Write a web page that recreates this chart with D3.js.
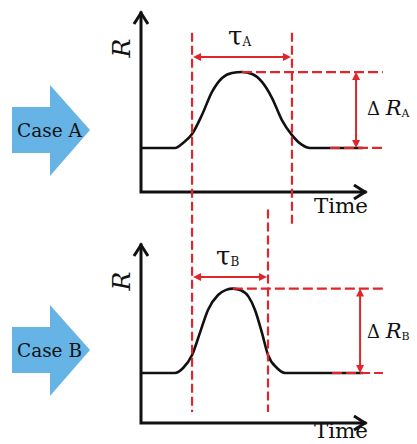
<!DOCTYPE html>
<html><head><meta charset="utf-8">
<script src="https://cdn.jsdelivr.net/npm/d3@7"></script>
<style>
html,body{margin:0;padding:0;background:#fff;}
svg{display:block;}
</style>
</head><body>
<svg id="chart" width="417" height="444"></svg>
<script>
// ---- data (time in arbitrary units 0..10, R normalised 0..1) ----
const caseNames = ["Case A", "Case B"];
const subs = ["A", "B"];
const timeA = [0, 1.52, 1.88, 2.28, 2.72, 3.17, 3.62, 4.06, 4.51, 4.96, 5.40, 5.85, 6.29, 6.74, 7.19, 7.54, 9.91];
const rA    = [0.246, 0.246, 0.274, 0.324, 0.430, 0.559, 0.637, 0.665, 0.670, 0.659, 0.615, 0.525, 0.402, 0.318, 0.263, 0.246, 0.246];
const timeB = [0, 1.52, 1.88, 2.28, 2.63, 2.99, 3.44, 3.80, 4.10, 4.46, 4.80, 5.09, 5.40, 5.67, 6.07, 6.43, 9.91];
const rB    = [0.281, 0.281, 0.309, 0.382, 0.506, 0.635, 0.719, 0.748, 0.755, 0.746, 0.710, 0.635, 0.506, 0.382, 0.309, 0.281, 0.281];
const tauA = [2.28, 6.74];
const tauB = [2.28, 5.67];
const peakA = {t: 4.51, r: 0.670}, peakB = {t: 4.10, r: 0.755};
const baseA = 0.246, baseB = 0.281;
const baseDashStart = [8.44, 8.53];
const deltaAt = [9.6, 9.78];
const xLabel = "Time", yLabel = "R";

// ---- layout ----
const svg = d3.select("#chart");
const RED = "#e0262a", BLACK = "#111", BLUE = "#66b4e6";
const SERIF = '"DejaVu Serif","Liberation Serif",serif';
const x = d3.scaleLinear().domain([0, 10]).range([141, 365]);
const panels = [
  {time: timeA, r: rA, tau: tauA, peak: peakA, base: baseA,
   y: d3.scaleLinear().domain([0, 1]).range([192, 13]), tauY: 57, tauLabelY: 45, dLabelY: 115, arrowY: 130, timeY: 213, rLabelY: 48},
  {time: timeB, r: rB, tau: tauB, peak: peakB, base: baseB,
   y: d3.scaleLinear().domain([0, 1]).range([423, 245]), tauY: 277, tauLabelY: 265, dLabelY: 338, arrowY: 350, timeY: 438, rLabelY: 281}
];
const dashEnd = 10.8;

function arrowHead(g, tipX, tipY, dir, color) {
  const L = 8, W = 4;
  let pts;
  if (dir === "left") pts = [[tipX, tipY], [tipX + L, tipY - W], [tipX + L, tipY + W]];
  if (dir === "right") pts = [[tipX, tipY], [tipX - L, tipY - W], [tipX - L, tipY + W]];
  if (dir === "up") pts = [[tipX, tipY], [tipX - W, tipY + L], [tipX + W, tipY + L]];
  if (dir === "down") pts = [[tipX, tipY], [tipX - W, tipY - L], [tipX + W, tipY - L]];
  g.append("path").attr("d", "M" + pts.map(p => p.join(",")).join("L") + "Z").attr("fill", color);
}
function txt(g) { return g.append("text").style("font-family", SERIF).attr("fill", BLACK); }

panels.forEach((p, i) => {
  const g = svg.append("g");
  const y = p.y;
  // Case arrow
  const ay = p.arrowY;
  const arrowPts = [[12, ay - 23], [50, ay - 23], [50, ay - 45], [90, ay], [50, ay + 46], [50, ay + 23], [12, ay + 23]];
  g.append("path").attr("d", "M" + arrowPts.map(q => q.join(",")).join("L") + "Z").attr("fill", BLUE);
  txt(g).attr("x", 17).attr("y", ay + 7).attr("font-size", 19)
    .attr("textLength", 65).attr("lengthAdjust", "spacingAndGlyphs").text(caseNames[i]);

  // axes
  const x0 = x(0), y0 = y(0), yTop = y(1), xEnd = x(10);
  g.append("path").attr("d", `M${x0},${yTop}L${x0},${y0}L${xEnd},${y0}`)
    .attr("fill", "none").attr("stroke", BLACK).attr("stroke-width", 3).attr("stroke-linecap", "square");
  g.append("path").attr("d", `M${x0 - 7},${yTop + 11}L${x0},${yTop}L${x0 + 7},${yTop + 11}`)
    .attr("fill", "none").attr("stroke", BLACK).attr("stroke-width", 3);
  g.append("path").attr("d", `M${xEnd - 11},${y0 - 7}L${xEnd},${y0}L${xEnd - 11},${y0 + 7}`)
    .attr("fill", "none").attr("stroke", BLACK).attr("stroke-width", 3);
  txt(g).attr("x", 314).attr("y", p.timeY).attr("font-size", 21)
    .attr("textLength", 54).attr("lengthAdjust", "spacingAndGlyphs").text(xLabel);
  txt(g).attr("transform", `translate(121,${p.rLabelY}) rotate(-90)`)
    .attr("text-anchor", "middle").attr("dominant-baseline", "central")
    .attr("font-size", 25).attr("font-style", "italic").text(yLabel);

  // curve
  const pts = p.time.map((t, k) => [t, p.r[k]]);
  g.append("path").datum(pts)
    .attr("d", d3.line().x(d => x(d[0])).y(d => y(d[1])).curve(d3.curveMonotoneX))
    .attr("fill", "none").attr("stroke", BLACK).attr("stroke-width", 2.6);

  // dashed horizontal lines
  g.append("line").attr("x1", x(p.peak.t)).attr("x2", x(dashEnd)).attr("y1", y(p.peak.r)).attr("y2", y(p.peak.r))
    .attr("stroke", RED).attr("stroke-width", 2.2).attr("stroke-dasharray", "10,4");
  g.append("line").attr("x1", x(baseDashStart[i])).attr("x2", x(dashEnd)).attr("y1", y(p.base)).attr("y2", y(p.base))
    .attr("stroke", RED).attr("stroke-width", 2.2).attr("stroke-dasharray", "10,4");

  // delta R arrow
  const dx = x(deltaAt[i]);
  g.append("line").attr("x1", dx).attr("x2", dx).attr("y1", y(p.peak.r) + 4).attr("y2", y(p.base) - 4)
    .attr("stroke", RED).attr("stroke-width", 2);
  arrowHead(g, dx, y(p.peak.r), "up", RED);
  arrowHead(g, dx, y(p.base), "down", RED);
  const dl = txt(g).attr("x", 367).attr("y", p.dLabelY).attr("font-size", 18);
  dl.append("tspan").text("Δ ");
  dl.append("tspan").attr("font-style", "italic").attr("font-size", 21).text("R");
  dl.append("tspan").attr("font-size", 11).attr("dy", 2).text(subs[i]);

  // tau arrow
  const t1 = x(p.tau[0]), t2 = x(p.tau[1]);
  g.append("line").attr("x1", t1 + 4).attr("x2", t2 - 4).attr("y1", p.tauY).attr("y2", p.tauY)
    .attr("stroke", RED).attr("stroke-width", 2);
  arrowHead(g, t1 + 1, p.tauY, "left", RED);
  arrowHead(g, t2 - 1, p.tauY, "right", RED);
  const tl = txt(g).attr("x", (t1 + t2) / 2 - 14).attr("y", p.tauLabelY).attr("font-size", 26);
  tl.append("tspan").text("τ");
  tl.append("tspan").attr("font-size", 12).attr("dy", 1).text(subs[i]);
});

// red vertical dashed lines
const yA = panels[0].y, yB = panels[1].y;
const vlines = [
  {t: tauA[0], y1: yA(0.89), y2: yB(0.062)},
  {t: tauA[1], y1: yA(0.89), y2: yA(-0.2)},
  {t: tauB[1], y1: yB(1.2), y2: yB(0.062)}
];
svg.selectAll("line.v").data(vlines).join("line").attr("class", "v")
  .attr("x1", d => x(d.t)).attr("x2", d => x(d.t)).attr("y1", d => d.y1).attr("y2", d => d.y2)
  .attr("stroke", RED).attr("stroke-width", 2.2).attr("stroke-dasharray", "9,4");
</script>
</body></html>
